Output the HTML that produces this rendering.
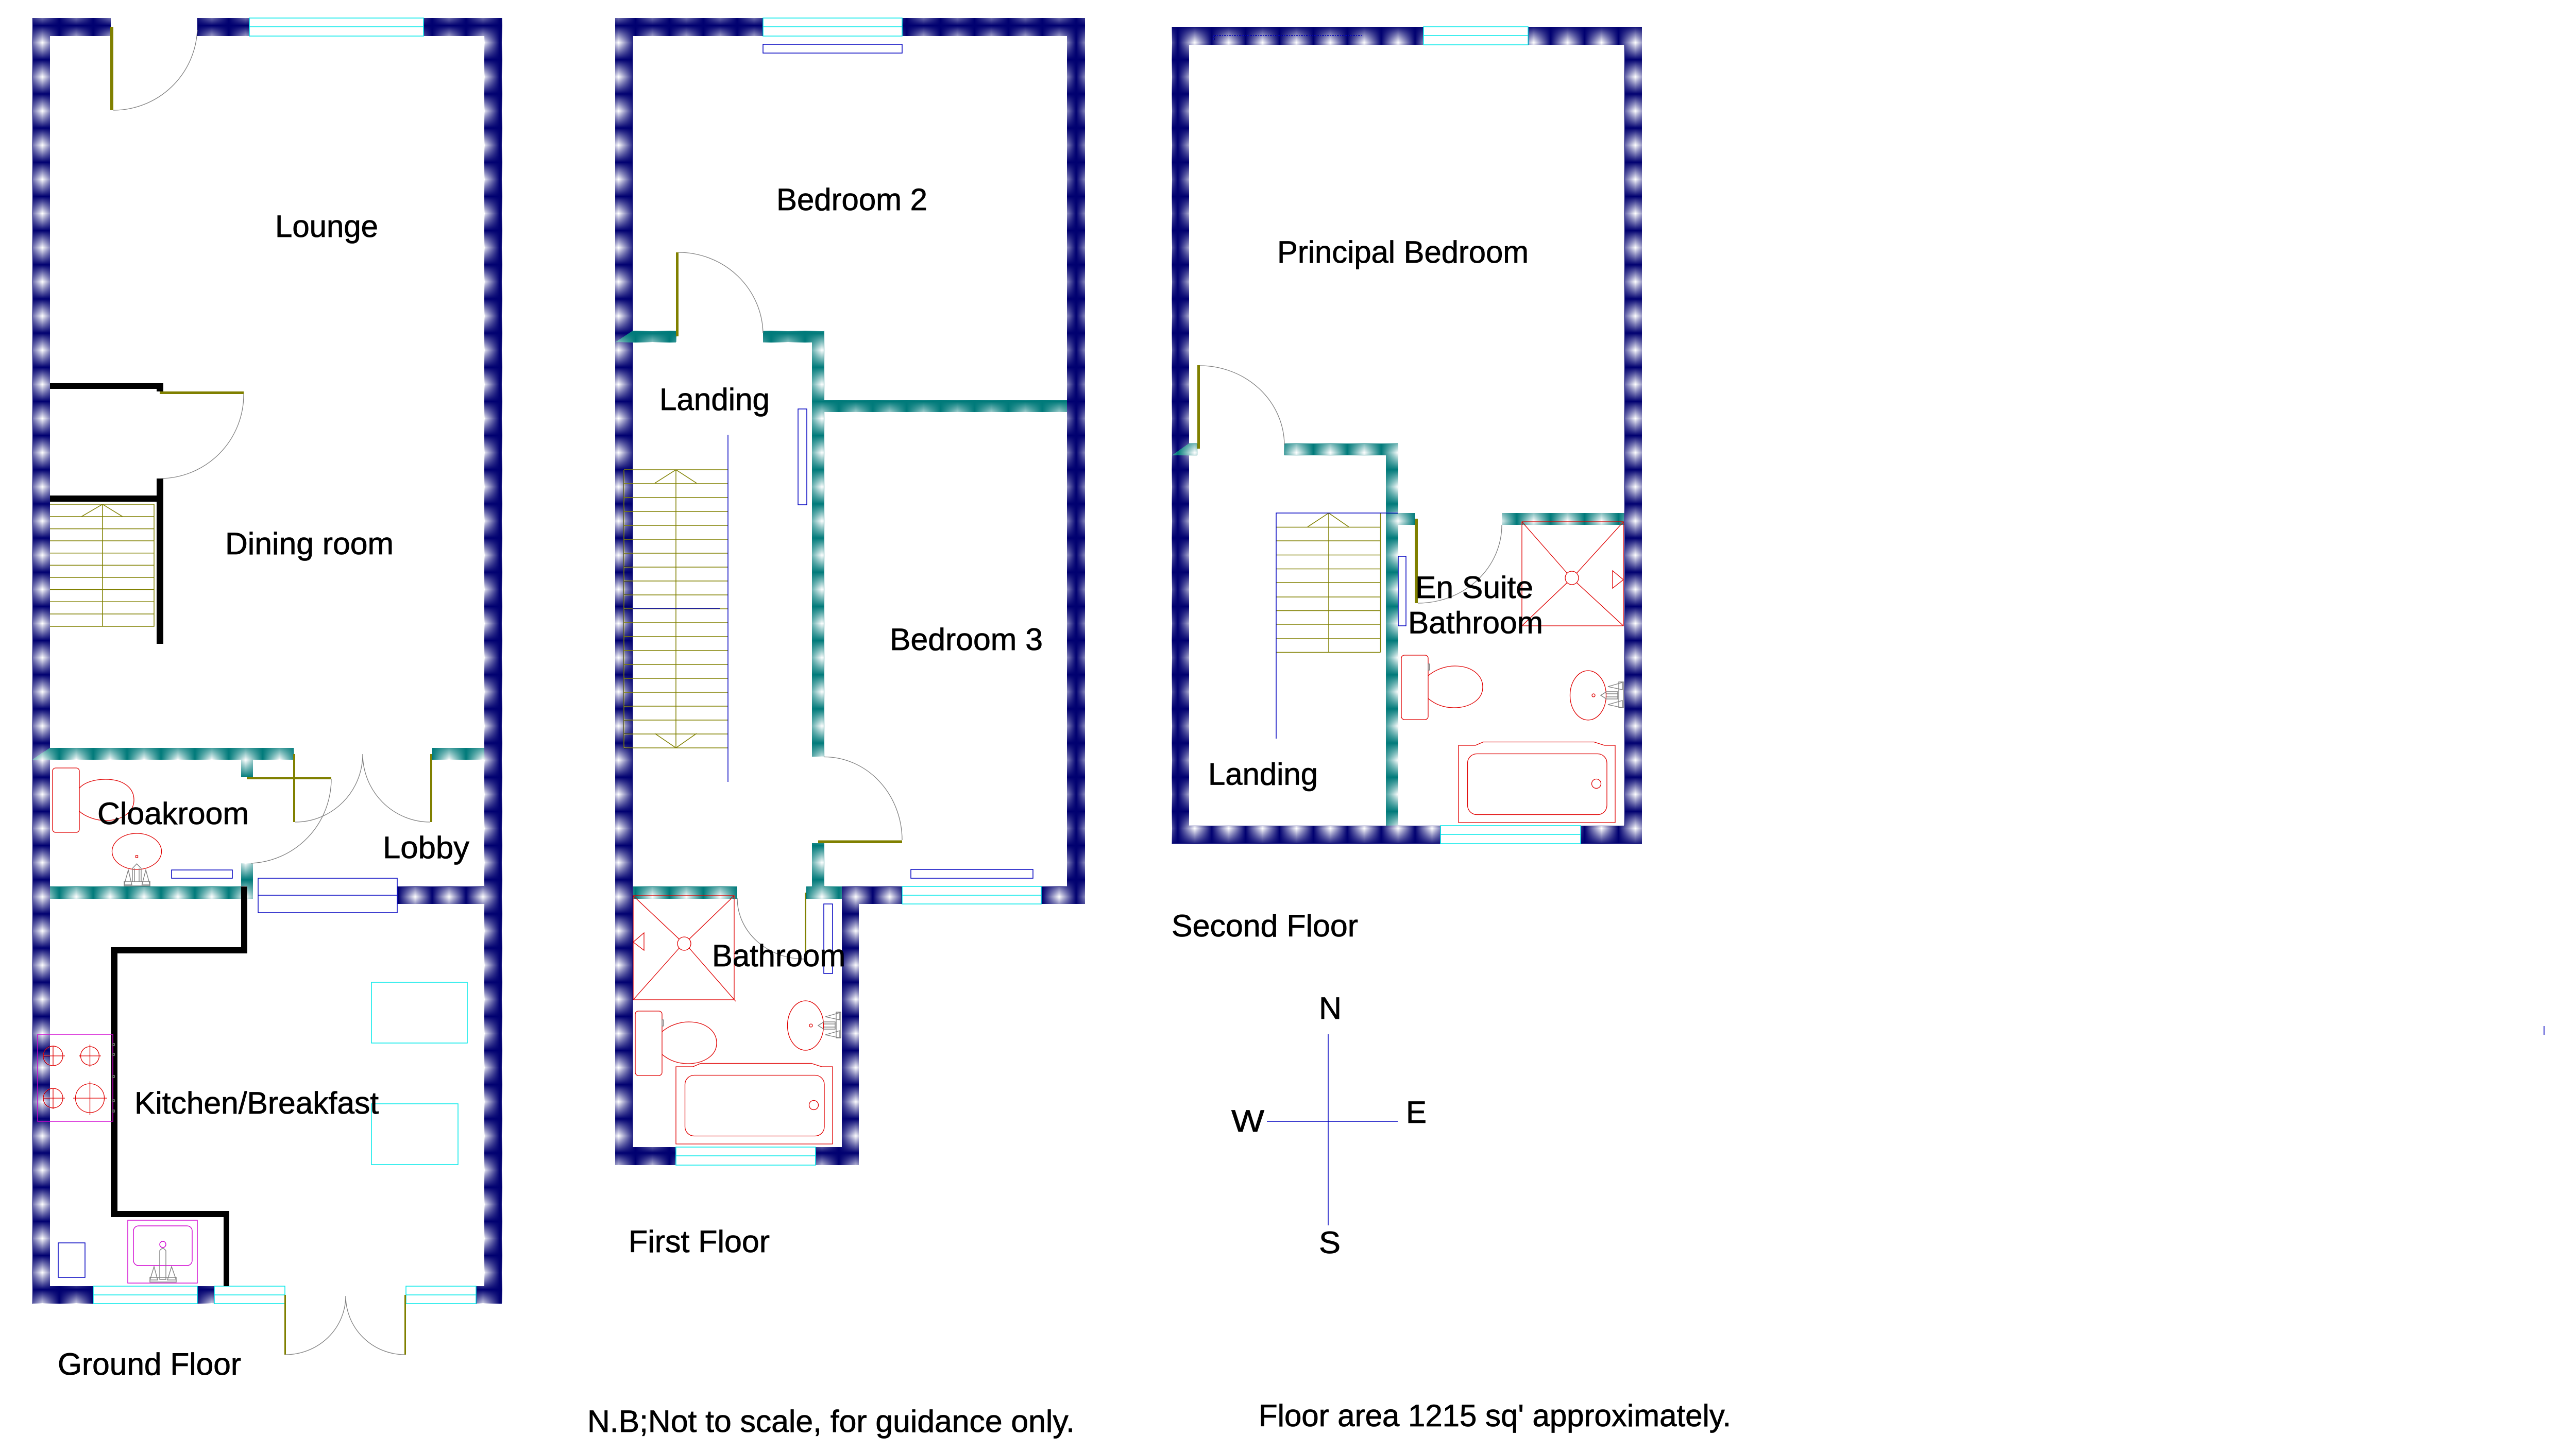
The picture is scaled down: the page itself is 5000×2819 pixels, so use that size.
<!DOCTYPE html>
<html><head><meta charset="utf-8"><title>Floor plan</title>
<style>
html,body{margin:0;padding:0;background:#fff}
svg{display:block}
text{font-family:"Liberation Sans",Arial,sans-serif;font-size:60px;fill:#000;stroke:#000;stroke-width:.8px}
.n{fill:url(#pn)}.t{fill:url(#pt)}
.k{fill:#000}.o{fill:#808000}
.c{fill:#fff;stroke:#00e8e8;stroke-width:1.5}
.cl{stroke:#00e8e8;stroke-width:1.5;fill:none}
.a{fill:none;stroke:#808080;stroke-width:1.3}
.b{fill:none;stroke:#0000c0;stroke-width:1.5}
.r{fill:none;stroke:#e00000;stroke-width:1.3}
.m{fill:none;stroke:#d000d0;stroke-width:1.4}
.g{fill:none;stroke:#808080;stroke-width:1.4}
.s{fill:none;stroke:#808000;stroke-width:1.5}
</style></head><body>
<svg xmlns="http://www.w3.org/2000/svg" width="5000" height="2819" viewBox="0 0 5000 2819">
<defs>
<pattern id="pn" width="2" height="2" patternUnits="userSpaceOnUse"><rect width="2" height="2" fill="#000070" shape-rendering="crispEdges"/><rect width="1" height="1" fill="#fff" shape-rendering="crispEdges"/></pattern>
<pattern id="pt" width="2" height="2" patternUnits="userSpaceOnUse"><rect width="2" height="2" fill="#007a7a" shape-rendering="crispEdges"/><rect width="1" height="1" fill="#fff" shape-rendering="crispEdges"/></pattern>
<g id="toilet"><rect class="r" x="1233" y="1963" width="52" height="125" rx="6"/><path class="r" d="M1285,2003C1300,1990 1320,1984 1337,1984C1370,1984 1391,2002 1391,2025C1391,2050 1365,2065 1335,2065C1315,2065 1298,2058 1285,2047"/><rect class="g" x="1285" y="1980" width="2.500" height="12"/></g>
<g id="bsink"><ellipse class="r" cx="1563.500" cy="1991" rx="35" ry="48"/><ellipse class="r" cx="1574" cy="1991" rx="3" ry="3"/><path class="g" d="M1623,1965h9v50h-9zM1602,1974L1630,1966V1980ZM1602,2009L1630,2001V2015ZM1621,1984H1599L1588,1991L1599,1998H1621ZM1599,1988H1621M1599,1994H1621"/></g>
<g id="bath"><path class="r" d="M1312,2071H1345L1360,2064.500H1575L1595,2071H1616V2221H1312Z"/><rect class="r" x="1329.500" y="2087.500" width="270.500" height="118" rx="18"/><circle class="r" cx="1579.500" cy="2145.500" r="9"/></g>
</defs>

<!-- GROUND FLOOR walls -->
<rect class="n" x="63" y="35" width="34" height="2496"/>
<rect class="n" x="940" y="35" width="35" height="2496"/>
<rect class="n" x="63" y="35" width="152" height="35"/>
<rect class="n" x="383" y="35" width="592" height="35"/>
<rect class="n" x="63" y="2497" width="118" height="34"/>
<rect class="n" x="383" y="2497" width="33" height="34"/>
<rect class="n" x="924" y="2497" width="51" height="34"/>
<rect class="n" x="771" y="1721" width="169" height="34"/>
<rect class="c" x="484" y="35" width="338" height="35"/><path class="cl" d="M484,52H822"/>
<rect class="c" x="181" y="2497" width="202" height="34"/><path class="cl" d="M181,2514H383"/>
<rect class="c" x="416" y="2497" width="137" height="34"/><path class="cl" d="M416,2514H553"/>
<rect class="c" x="788" y="2497" width="136" height="34"/><path class="cl" d="M788,2514H924"/>
<polygon class="t" points="97,1452 570,1452 570,1475 63,1475"/>
<rect class="t" x="468" y="1475" width="23" height="34"/>
<rect class="t" x="839" y="1452" width="101" height="23"/>
<rect class="t" x="97" y="1721" width="371" height="24"/>
<rect class="t" x="468" y="1676" width="23" height="69"/>
<!-- black walls -->
<rect class="k" x="97" y="744" width="220" height="11"/><rect class="k" x="304" y="744" width="13" height="16"/>
<rect class="k" x="304" y="929" width="13" height="321"/>
<rect class="k" x="97" y="962" width="207" height="12"/>
<rect class="k" x="468" y="1721" width="12" height="130"/>
<rect class="k" x="215" y="1839" width="265" height="12"/>
<rect class="k" x="215" y="1839" width="13" height="524"/>
<rect class="k" x="215" y="2351" width="230" height="12"/>
<rect class="k" x="434" y="2351" width="11" height="146"/>
<!-- doors -->
<rect class="o" x="214" y="52" width="6" height="162"/>
<path class="a" d="M220,214A163,163 0 0 0 383,58"/>
<rect class="o" x="310" y="760" width="163" height="5"/>
<path class="a" d="M473,765A163,163 0 0 1 311,929"/>
<rect class="o" x="479" y="1509" width="164" height="4"/>
<rect class="o" x="569" y="1464" width="4" height="132"/>
<rect class="o" x="835" y="1464" width="4" height="132"/>
<path class="a" d="M573,1596A131,132 0 0 0 704,1464M835,1596A131,132 0 0 1 704,1464M643,1512A163,164 0 0 1 487,1676"/>
<rect class="o" x="552" y="2514" width="3" height="116"/>
<rect class="o" x="785" y="2514" width="3" height="116"/>
<path class="a" d="M554,2630A117,114 0 0 0 671,2516M786,2630A115,114 0 0 1 671,2516"/>
<!-- stairs ground -->
<path class="s" d="M97,979H299V1216H97M199,979V1216M97,1003H299M97,1026.600H299M97,1050H299M97,1073.800H299M97,1097.400H299M97,1121H299M97,1144.600H299M97,1168.300H299M97,1192H299M158,1003L199,979L238,1003"/>
<!-- fixtures ground -->
<rect class="b" x="333" y="1689" width="118" height="16"/>
<rect class="b" x="501" y="1705" width="270" height="67"/><path class="b" d="M501,1738H771"/>
<rect class="cl" x="721" y="1907" width="186" height="118"/>
<rect class="cl" x="721" y="2143" width="168" height="118"/>
<rect class="b" x="113" y="2413" width="52" height="67"/>
<rect class="r" x="102" y="1491" width="52" height="125" rx="6"/>
<path class="r" d="M154,1530C165,1518 185,1513 205,1513C240,1513 260,1530 260,1553C260,1578 235,1593 205,1593C185,1593 165,1585 154,1575"/>
<ellipse class="r" cx="265.500" cy="1653" rx="48" ry="35"/><rect class="r" x="263.500" y="1661" width="4" height="4"/>
<path class="g" d="M241,1711H291V1720H241ZM257,1712V1686L265.500,1677L274,1686V1712M249,1689L241,1718H256ZM283,1689L275.500,1718H291ZM261,1686V1712M270,1686V1712"/>
<rect class="m" x="73" y="2008" width="146" height="169"/>
<g><circle class="r" cx="103" cy="2050" r="19"/><circle class="r" cx="174.500" cy="2050" r="18"/><circle class="r" cx="103" cy="2132" r="19"/><circle class="r" cx="174.500" cy="2132" r="28"/>
<path class="r" d="M83,2050H126M103,2030V2070M153,2050H196M174.500,2028V2071M83,2132H126M103,2113V2153M142,2132H208M174.500,2099.500V2165"/></g>
<path class="g" d="M219,2026h3v4h-3zM219,2045h3v4h-3zM219,2088h3v4h-3zM219,2135h3v4h-3zM219,2155h3v4h-3z"/>
<rect class="m" x="248" y="2369" width="135" height="122"/>
<rect class="m" x="259" y="2380" width="114" height="77" rx="10"/>
<circle class="m" cx="316" cy="2416" r="6"/>
<path class="g" d="M310,2428Q316,2420 322,2428V2484H310ZM291,2480H342V2489H291ZM299,2459L291,2485H306ZM333,2459L325,2485H342Z"/>

<!-- FIRST FLOOR walls -->
<rect class="n" x="1194" y="35" width="34.500" height="2227"/>
<rect class="n" x="2071" y="35" width="35" height="1720"/>
<rect class="n" x="1194" y="35" width="912" height="35"/>
<rect class="n" x="1634" y="1721" width="472" height="34"/>
<rect class="n" x="1634" y="1721" width="33" height="541"/>
<rect class="n" x="1194" y="2227" width="473" height="35"/>
<rect class="c" x="1481" y="35" width="270" height="35"/><path class="cl" d="M1481,52H1751"/>
<rect class="c" x="1751" y="1721" width="270" height="34"/><path class="cl" d="M1751,1738H2021"/>
<rect class="c" x="1312" y="2227" width="271" height="35"/><path class="cl" d="M1312,2244H1583"/>
<polygon class="t" points="1228,642 1313,642 1313,665 1194,665"/>
<rect class="t" x="1481" y="642" width="119" height="23"/>
<rect class="t" x="1576" y="642" width="24" height="827.500"/>
<rect class="t" x="1600" y="777" width="471" height="23"/>
<rect class="t" x="1576" y="1637" width="24" height="90"/>
<rect class="t" x="1229" y="1721" width="202" height="24"/>
<rect class="t" x="1565" y="1721" width="69" height="24"/>
<rect class="b" x="1481" y="86" width="270" height="17"/>
<rect class="b" x="1549" y="794" width="17" height="186"/>
<rect class="b" x="1768" y="1688" width="237" height="17"/>
<rect class="b" x="1599" y="1755" width="17" height="135"/>
<!-- doors first -->
<rect class="o" x="1312" y="490" width="5" height="163"/>
<path class="a" d="M1317,490A164,160 0 0 1 1481,647"/>
<rect class="o" x="1588" y="1631.500" width="163" height="5.500"/>
<path class="a" d="M1600,1469.500A151,162 0 0 1 1751,1631"/>
<rect class="o" x="1562" y="1733" width="3" height="127"/>
<path class="a" d="M1431,1744A131,118 0 0 0 1562,1862"/>
<!-- stairs first -->
<path class="s" d="M1211,912V1452M1312,912V1452M1211,912H1413M1211,939H1413M1211,966H1413M1211,993H1413M1211,1020H1413M1211,1047H1413M1211,1074H1413M1211,1101H1413M1211,1128H1413M1211,1155H1413M1211,1182H1413M1211,1209H1413M1211,1236H1413M1211,1263H1413M1211,1290H1413M1211,1317H1413M1211,1344H1413M1211,1371H1413M1211,1398H1413M1211,1425H1413M1211,1452H1413M1271,938L1312,912L1352,938M1271,1424L1312,1452L1352,1424"/>
<path class="b" d="M1413,844V1518M1228,1181H1397"/>
<!-- bathroom first -->
<rect class="r" x="1229" y="1739" width="196" height="202"/>
<circle class="r" cx="1328" cy="1832" r="13"/>
<path class="r" d="M1229,1739L1318,1823M1338,1841L1428,1944M1425,1739L1338,1823M1318,1841L1229,1941M1229,1829L1250,1811V1845Z"/>
<use href="#toilet"/><use href="#bsink"/><use href="#bath"/>

<!-- SECOND FLOOR walls -->
<rect class="n" x="2274.500" y="52" width="33.500" height="1586"/>
<rect class="n" x="3153" y="52" width="34" height="1586"/>
<rect class="n" x="2274.500" y="52" width="912.500" height="35"/>
<rect class="n" x="2274.500" y="1603" width="912.500" height="35"/>
<path class="b" d="M2356,69H2646M2356,69V78" stroke-dasharray="3 2"/>
<rect class="c" x="2763" y="52" width="203" height="35"/><path class="cl" d="M2763,69H2966"/>
<rect class="c" x="2796" y="1603" width="272" height="35"/><path class="cl" d="M2796,1620H3068"/>
<polygon class="t" points="2308,861 2324,861 2324,884 2274.500,884"/>
<rect class="t" x="2493" y="861" width="221" height="23"/>
<rect class="t" x="2690" y="861" width="24" height="742"/>
<rect class="t" x="2714" y="996" width="32" height="23"/>
<rect class="t" x="2915" y="996" width="238" height="23"/>
<rect class="b" x="2714" y="1080" width="15" height="135"/>
<!-- doors second -->
<rect class="o" x="2324" y="709" width="5" height="162"/>
<path class="a" d="M2329,710A164,155 0 0 1 2493,864"/>
<rect class="o" x="2746" y="1007" width="6" height="164"/>
<path class="a" d="M2915,1019A163,152 0 0 1 2752,1171"/>
<!-- stairs second -->
<path class="s" d="M2477,1023.500H2679.500M2477,1050H2679.500M2477,1077.500H2679.500M2477,1104.500H2679.500M2477,1131H2679.500M2477,1159H2679.500M2477,1185.500H2679.500M2477,1212H2679.500M2477,1240H2679.500M2477,1266.500H2679.500M2679.500,996V1266.500M2579,996V1266.500M2538,1023L2579,996L2618,1023"/>
<path class="b" d="M2477,1434V996H2714"/>
<!-- bath second -->
<rect class="r" x="2954" y="1013" width="197" height="202"/>
<circle class="r" cx="3051" cy="1122" r="13"/>
<path class="r" d="M2954,1013L3042,1113M3060,1131L3151,1215M3151,1013L3060,1113M3042,1131L2954,1215M3151,1125.500L3130,1108V1142Z"/>
<use href="#toilet" transform="translate(1487,-691)"/>
<use href="#bsink" transform="translate(1519,-641)"/>
<use href="#bath" transform="translate(1519,-624)"/>

<!-- compass -->
<path class="b" d="M2578,2008V2379M2459,2177H2713"/>
<path class="b" d="M4938,1992V2009"/>

<!-- labels -->
<text x="534" y="460" textLength="200" lengthAdjust="spacingAndGlyphs">Lounge</text>
<text x="437" y="1076" textLength="327" lengthAdjust="spacingAndGlyphs">Dining room</text>
<text x="189" y="1600" textLength="294" lengthAdjust="spacingAndGlyphs">Cloakroom</text>
<text x="743" y="1666" textLength="168" lengthAdjust="spacingAndGlyphs">Lobby</text>
<text x="261" y="2162" textLength="474" lengthAdjust="spacingAndGlyphs">Kitchen/Breakfast</text>
<text x="112" y="2669" textLength="356" lengthAdjust="spacingAndGlyphs">Ground Floor</text>
<text x="1507" y="408" textLength="293" lengthAdjust="spacingAndGlyphs">Bedroom 2</text>
<text x="1280" y="796" textLength="214" lengthAdjust="spacingAndGlyphs">Landing</text>
<text x="1727" y="1262" textLength="297" lengthAdjust="spacingAndGlyphs">Bedroom 3</text>
<text x="1382" y="1876" textLength="259" lengthAdjust="spacingAndGlyphs">Bathroom</text>
<text x="1220" y="2431" textLength="274" lengthAdjust="spacingAndGlyphs">First Floor</text>
<text x="1140" y="2780" textLength="946" lengthAdjust="spacingAndGlyphs">N.B;Not to scale, for guidance only.</text>
<text x="2479" y="510" textLength="488" lengthAdjust="spacingAndGlyphs">Principal Bedroom</text>
<text x="2747" y="1161" textLength="229" lengthAdjust="spacingAndGlyphs">En Suite</text>
<text x="2733" y="1229.500" textLength="262" lengthAdjust="spacingAndGlyphs">Bathroom</text>
<text x="2345" y="1523.500" textLength="213" lengthAdjust="spacingAndGlyphs">Landing</text>
<text x="2274" y="1818" textLength="362" lengthAdjust="spacingAndGlyphs">Second Floor</text>
<text x="2443" y="2769" textLength="917" lengthAdjust="spacingAndGlyphs">Floor area 1215 sq' approximately.</text>
<text x="2560" y="1978" textLength="44" lengthAdjust="spacingAndGlyphs">N</text>
<text x="2390" y="2197" textLength="64" lengthAdjust="spacingAndGlyphs">W</text>
<text x="2729" y="2180" textLength="40" lengthAdjust="spacingAndGlyphs">E</text>
<text x="2560" y="2433" textLength="42" lengthAdjust="spacingAndGlyphs">S</text>
</svg>
</body></html>
